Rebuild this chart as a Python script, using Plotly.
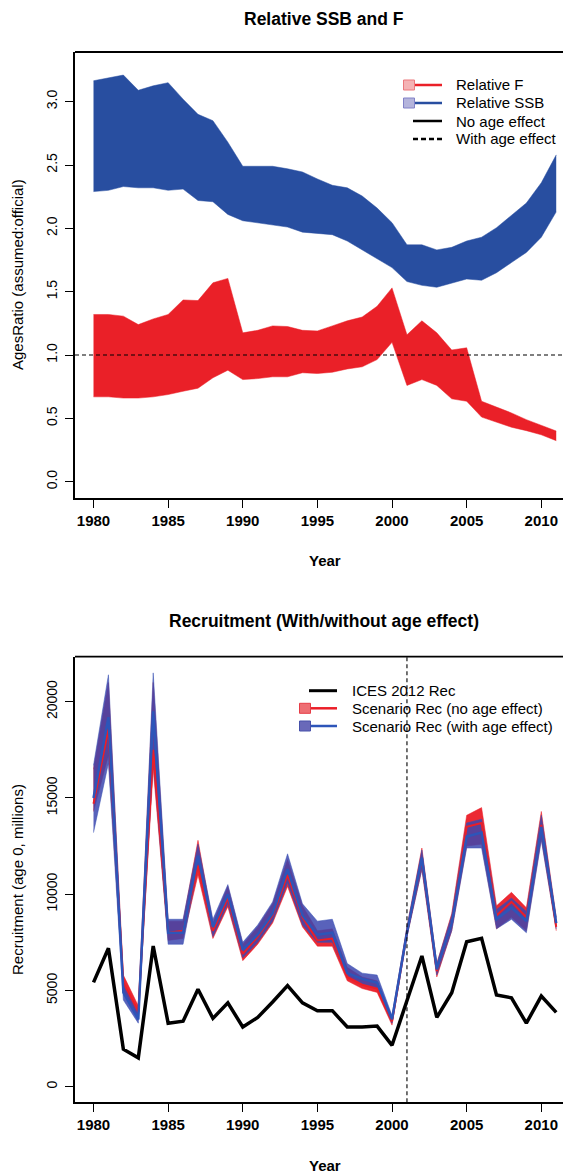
import plotly.graph_objects as go

years = list(range(1980, 2012))

# ---- Top panel: relative F and SSB bands ----
ssb_upper = [3.165, 3.19, 3.21, 3.09, 3.125, 3.15, 3.02, 2.90, 2.85, 2.68,
             2.49, 2.49, 2.49, 2.47, 2.445, 2.39, 2.34, 2.32, 2.255, 2.16,
             2.045, 1.87, 1.87, 1.83, 1.85, 1.90, 1.93, 2.005, 2.10, 2.20,
             2.36, 2.58]
ssb_lower = [2.29, 2.30, 2.33, 2.32, 2.32, 2.30, 2.31, 2.22, 2.21, 2.11,
             2.06, 2.045, 2.03, 2.01, 1.97, 1.96, 1.95, 1.90, 1.83, 1.755,
             1.69, 1.58, 1.55, 1.535, 1.565, 1.60, 1.59, 1.65, 1.73, 1.81,
             1.93, 2.13]
f_upper = [1.32, 1.32, 1.307, 1.24, 1.285, 1.32, 1.435, 1.43, 1.57, 1.605,
           1.175, 1.195, 1.23, 1.225, 1.195, 1.19, 1.23, 1.27, 1.30, 1.385,
           1.53, 1.16, 1.27, 1.175, 1.04, 1.057, 0.635, 0.59, 0.543, 0.49,
           0.443, 0.40]
f_lower = [0.67, 0.67, 0.66, 0.66, 0.67, 0.688, 0.714, 0.738, 0.82, 0.88,
           0.806, 0.814, 0.828, 0.828, 0.86, 0.854, 0.864, 0.89, 0.907, 0.964,
           1.10, 0.76, 0.806, 0.76, 0.654, 0.635, 0.51, 0.47, 0.43, 0.403,
           0.37, 0.324]
top_yticks = [0.0, 0.5, 1.0, 1.5, 2.0, 2.5, 3.0]
top_yticklabels = ["0.0", "0.5", "1.0", "1.5", "2.0", "2.5", "3.0"]

# ---- Bottom panel: recruitment ----
ices_rec = [5420, 7190, 1950, 1500, 7310, 3300, 3400, 5060, 3550, 4360,
            3100, 3600, 4400, 5250, 4360, 3950, 3950, 3100, 3100, 3150,
            2150, 4450, 6790, 3600, 4880, 7530, 7710, 4760, 4620, 3300,
            4710, 3860]
red_mid = [14700, 18600, 5400, 3900, 17500, 8000, 8100, 11500, 8100, 9800,
           6900, 7800, 8900, 11000, 8800, 7600, 7700, 5700, 5300, 5100,
           3400, 8000, 11800, 6000, 8500, 13500, 13700, 8900, 9600, 8800,
           13600, 8300]
red_lo = [14300, 17200, 5000, 3600, 16500, 7600, 7700, 11000, 7700, 9350,
          6550, 7400, 8500, 10400, 8300, 7300, 7300, 5500, 5100, 4900,
          3200, 7800, 11300, 5700, 8100, 12500, 12600, 8200, 8800, 8100,
          12900, 8100]
red_hi = [16500, 21000, 5800, 4200, 21000, 8600, 8600, 12800, 8500, 10400,
          7400, 8300, 9500, 11800, 9400, 8100, 8200, 6200, 5700, 5500,
          3600, 8300, 12400, 6400, 9000, 14100, 14500, 9400, 10100, 9300,
          14300, 8800]
blue_mid = [15000, 19200, 4900, 3500, 19500, 8000, 8000, 12000, 8300, 10000,
            7100, 7900, 9000, 11300, 8900, 7900, 8000, 5900, 5600, 5400,
            3500, 8000, 11900, 6100, 8500, 13000, 13200, 8700, 9300, 8600,
            13500, 8500]
blue_lo = [13200, 16800, 4500, 3300, 17000, 7400, 7400, 11500, 7800, 9500,
           6700, 7500, 8600, 10600, 8400, 7500, 7500, 5700, 5300, 5100,
           3300, 7800, 11300, 5800, 8100, 12400, 12400, 8200, 8700, 8000,
           12800, 8200]
blue_hi = [16700, 21400, 5400, 3800, 21500, 8700, 8700, 12600, 8700, 10500,
           7500, 8400, 9600, 12100, 9500, 8600, 8700, 6400, 5900, 5800,
           3700, 8300, 12300, 6400, 8900, 13700, 13900, 9200, 9800, 9100,
           14100, 8800]
bot_yticks = [0, 5000, 10000, 15000, 20000]
xticks = [1980, 1985, 1990, 1995, 2000, 2005, 2010]

# page body has an 8px margin: figure is sized to fill the rest of the window
OFF = 8
W, H = 571 - OFF, 1175 - OFF
RED = "rgb(234,32,40)"
BLUE = "rgb(40,78,160)"
FONT = "Liberation Sans, Arial, sans-serif"
DASH = "4px,3px"


def px(x):
    return (x - OFF) / W


def py(y):
    return 1 - (y - OFF) / H


fig = go.Figure()

# SSB band
fig.add_trace(go.Scatter(x=years, y=ssb_lower, mode="lines",
                         line=dict(width=0.5, color=BLUE), hoverinfo="skip",
                         xaxis="x", yaxis="y"))
fig.add_trace(go.Scatter(x=years, y=ssb_upper, mode="lines",
                         line=dict(width=0.5, color=BLUE), fill="tonexty",
                         fillcolor=BLUE, hoverinfo="skip", xaxis="x", yaxis="y"))
# F band
fig.add_trace(go.Scatter(x=years, y=f_lower, mode="lines",
                         line=dict(width=0.5, color=RED), hoverinfo="skip",
                         xaxis="x", yaxis="y"))
fig.add_trace(go.Scatter(x=years, y=f_upper, mode="lines",
                         line=dict(width=0.5, color=RED), fill="tonexty",
                         fillcolor=RED, hoverinfo="skip", xaxis="x", yaxis="y"))

# Recruitment bands
fig.add_trace(go.Scatter(x=years, y=red_lo, mode="lines",
                         line=dict(width=0.5, color="rgb(235,30,40)"),
                         xaxis="x2", yaxis="y2", hoverinfo="skip"))
fig.add_trace(go.Scatter(x=years, y=red_hi, mode="lines",
                         line=dict(width=0.5, color="rgb(235,30,40)"),
                         fill="tonexty", fillcolor="rgba(235,30,40,0.95)",
                         xaxis="x2", yaxis="y2", hoverinfo="skip"))
fig.add_trace(go.Scatter(x=years, y=blue_lo, mode="lines",
                         line=dict(width=0.5, color="rgb(55,80,178)"),
                         xaxis="x2", yaxis="y2", hoverinfo="skip"))
fig.add_trace(go.Scatter(x=years, y=blue_hi, mode="lines",
                         line=dict(width=0.5, color="rgb(55,80,178)"),
                         fill="tonexty", fillcolor="rgba(60,70,175,0.85)",
                         xaxis="x2", yaxis="y2", hoverinfo="skip"))
fig.add_trace(go.Scatter(x=years, y=red_mid, mode="lines",
                         line=dict(width=2, color="rgb(235,30,40)"),
                         xaxis="x2", yaxis="y2", hoverinfo="skip"))
fig.add_trace(go.Scatter(x=years, y=blue_mid, mode="lines",
                         line=dict(width=2.5, color="rgb(45,85,185)"),
                         xaxis="x2", yaxis="y2", hoverinfo="skip"))
fig.add_trace(go.Scatter(x=years, y=ices_rec, mode="lines",
                         line=dict(width=3.5, color="black"),
                         xaxis="x2", yaxis="y2", hoverinfo="skip"))

xdom = [px(75), 1]
xr = [1978.76, 2011.99]
common_x = dict(range=xr, tickvals=xticks, ticks="outside", ticklen=8,
                tickwidth=1.2, tickcolor="black", showline=True,
                linecolor="black", linewidth=1.8, showgrid=False,
                zeroline=False, domain=xdom,
                tickfont=dict(family=FONT, size=15, color="black", weight="bold"))
common_y = dict(ticks="outside", ticklen=8, tickwidth=1.2, tickcolor="black",
                showline=True, linecolor="black", linewidth=1.8,
                showgrid=False, zeroline=False, tickangle=-90,
                ticklabelstandoff=3,
                tickfont=dict(family=FONT, size=14, color="black"))

fig.update_layout(
    width=W, height=H,
    margin=dict(l=0, r=0, t=0, b=0),
    paper_bgcolor="white", plot_bgcolor="white",
    showlegend=False,
    xaxis=dict(anchor="y", **common_x),
    yaxis=dict(anchor="x", domain=[py(498.3), py(52)], range=[-0.131, 3.392],
               tickvals=top_yticks, ticktext=top_yticklabels, **common_y),
    xaxis2=dict(anchor="y2", **common_x),
    yaxis2=dict(anchor="x2", domain=[py(1102.3), py(656.7)],
                range=[-810, 22340], tickvals=bot_yticks,
                ticktext=[str(v) for v in bot_yticks], **common_y),
)

shapes = []
# top borders of panels
shapes.append(dict(type="line", xref="x domain", yref="y domain", x0=0, x1=1,
                   y0=1, y1=1, line=dict(color="black", width=1.8)))
shapes.append(dict(type="line", xref="x2 domain", yref="y2 domain", x0=0, x1=1,
                   y0=1, y1=1, line=dict(color="black", width=1.8)))
# reference lines
shapes.append(dict(type="line", xref="x domain", yref="y", x0=0, x1=1,
                   y0=1.0, y1=1.0, line=dict(color="black", width=1.1, dash=DASH)))
shapes.append(dict(type="line", xref="x2", yref="y2 domain", x0=2001, x1=2001,
                   y0=0, y1=1, line=dict(color="black", width=1.1, dash=DASH)))

annotations = []


def text(x, y, s, size=15, bold=False, xanchor="left", angle=0):
    annotations.append(dict(
        x=px(x), y=py(y), xref="paper", yref="paper", text=s, showarrow=False,
        xanchor=xanchor, yanchor="middle", textangle=angle,
        font=dict(family=FONT, size=size, color="black",
                  weight="bold" if bold else "normal")))


def leg_line(x0, x1, y, color, width=2.5, dash="solid"):
    shapes.append(dict(type="line", xref="paper", yref="paper",
                       x0=px(x0), x1=px(x1), y0=py(y), y1=py(y),
                       line=dict(color=color, width=width, dash=dash)))


def leg_box(xc, y, fill, border):
    shapes.append(dict(type="rect", xref="paper", yref="paper",
                       x0=px(xc - 5.5), x1=px(xc + 5.5),
                       y0=py(y + 5), y1=py(y - 5),
                       fillcolor=fill, line=dict(color=border, width=1)))


# Titles
text(324, 19, "Relative SSB and F", size=17.5, bold=True, xanchor="center")
text(324, 621, "Recruitment (With/without age effect)", size=17.5, bold=True,
     xanchor="center")
text(325, 560, "Year", size=15, bold=True, xanchor="center")
text(325, 1165, "Year", size=15, bold=True, xanchor="center")
text(17, 275, "AgesRatio (assumed:official)", size=15, xanchor="center", angle=-90)
text(17, 880, "Recruitment (age 0, millions)", size=15, xanchor="center", angle=-90)

# Top legend
leg_line(413, 442, 85, RED)
leg_box(409, 85, "rgb(244,178,180)", "rgb(235,120,125)")
text(454, 85, "Relative F")
leg_line(413, 442, 103, BLUE)
leg_box(409, 103, "rgb(180,180,220)", "rgb(130,130,200)")
text(454, 103, "Relative SSB")
leg_line(413, 442, 121, "black")
text(454, 121, "No age effect")
leg_line(413, 442, 139, "black", width=2.5, dash="5px,3px")
text(454, 139, "With age effect")

# Bottom legend
leg_line(309, 337, 690.7, "black", width=3)
text(350, 690.7, "ICES 2012 Rec")
leg_line(309, 337, 708.3, "rgb(235,30,40)")
leg_box(305, 708.3, "rgb(238,110,115)", "rgb(230,60,70)")
text(350, 708.3, "Scenario Rec (no age effect)")
leg_line(309, 337, 726, "rgb(45,85,185)")
leg_box(305, 726, "rgb(105,105,185)", "rgb(70,80,170)")
text(350, 726, "Scenario Rec (with age effect)")

fig.update_layout(shapes=shapes, annotations=annotations)
fig.write_html("out.html")
